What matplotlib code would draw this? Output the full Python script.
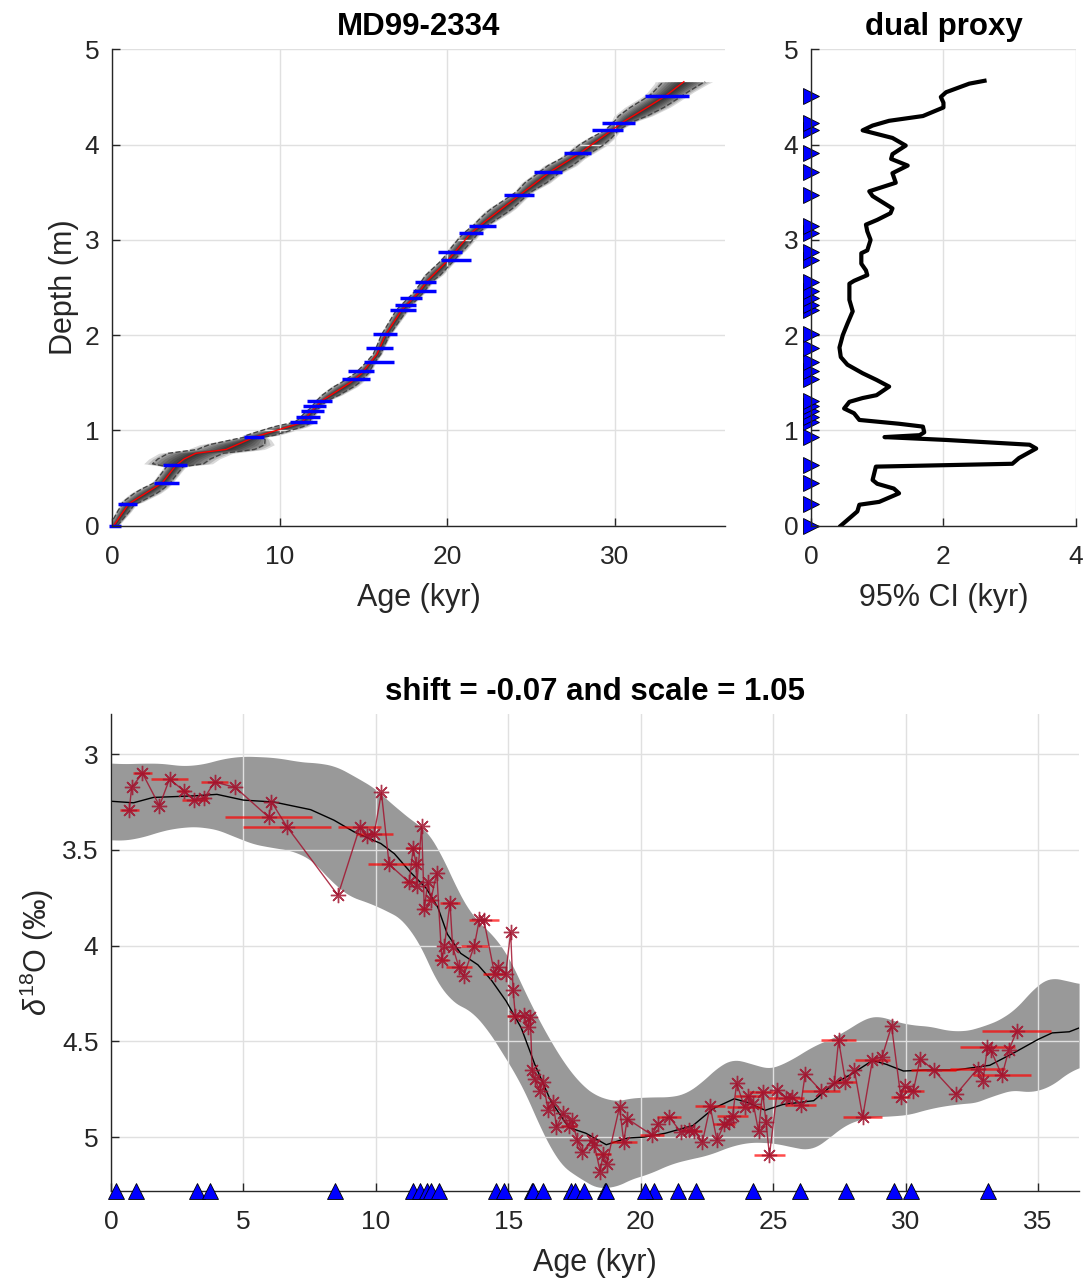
import numpy as np
import matplotlib
matplotlib.use("Agg")
import matplotlib.pyplot as plt

# === Style ===
plt.rcParams['font.family'] = ['Liberation Sans', 'DejaVu Sans']
plt.rcParams['mathtext.fontset'] = 'custom'
plt.rcParams['mathtext.rm'] = 'Liberation Sans'
plt.rcParams['mathtext.it'] = 'Liberation Sans:italic'
AX_COL = '#262626'
TICK_FS = 19
LABEL_FS = 22
TITLE_FS = 22.5

# === Tie points (depth in m, age in kyr, half error in kyr) ===
tie_depth = [0.00, 0.23, 0.45, 0.64, 0.93, 1.09, 1.14, 1.20, 1.26, 1.31,
             1.54, 1.62, 1.72, 1.86, 2.01, 2.26, 2.32, 2.39, 2.46, 2.56,
             2.79, 2.87, 3.07, 3.15, 3.47, 3.71, 3.91, 4.15, 4.23, 4.51]
tie_age = [0.2, 0.95, 3.25, 3.75, 8.45, 11.4, 11.68, 11.95, 12.08, 12.4,
           14.55, 14.85, 15.9, 15.95, 16.3, 17.35, 17.5, 17.85, 18.65, 18.7,
           20.5, 20.15, 21.4, 22.1, 24.25, 26.0, 27.75, 29.55, 30.2, 33.1]
tie_err = [0.35, 0.57, 0.75, 0.73, 0.6, 0.8, 0.72, 0.7, 0.7, 0.75,
           0.85, 0.8, 0.9, 0.8, 0.72, 0.8, 0.65, 0.66, 0.7, 0.63,
           0.9, 0.7, 0.7, 0.8, 0.9, 0.85, 0.8, 0.95, 1.0, 1.3]

# === Age-depth model median ===
med_depth = [0.0, 0.23, 0.45, 0.63, 0.70, 0.76, 0.80, 0.93, 1.0, 1.08, 1.2, 1.31,
             1.5, 1.6, 1.8, 2.0, 2.27, 2.45, 2.57, 2.78, 3.07, 3.2, 3.47,
             3.71, 3.91, 4.15, 4.23, 4.4, 4.51, 4.66]
med_age = [0.1, 1.0, 3.0, 3.8, 4.3, 5.0, 6.8, 8.5, 9.8, 11.3, 11.9, 12.5,
           14.2, 14.9, 15.8, 16.3, 17.3, 18.3, 18.8, 20.0, 21.4, 22.3, 24.3,
           26.1, 27.9, 29.8, 30.4, 32.0, 33.0, 34.1]

# === 95% CI width vs depth ===
ci_depth = [0.0, 0.09, 0.15, 0.22, 0.25, 0.34, 0.39, 0.44, 0.48, 0.62, 0.65, 0.71,
            0.81, 0.85, 0.9, 0.93, 0.95, 0.98, 1.04, 1.07, 1.11, 1.18, 1.23, 1.30,
            1.34, 1.37, 1.46, 1.53, 1.6, 1.69, 1.77, 1.87, 2.0, 2.12, 2.25, 2.37,
            2.54, 2.57, 2.63, 2.68, 2.75, 2.86, 2.89, 3.0, 3.09, 3.16, 3.21, 3.28,
            3.33, 3.46, 3.51, 3.6, 3.7, 3.78, 3.85, 3.9, 3.99, 4.07, 4.15, 4.2,
            4.25, 4.3, 4.39, 4.44, 4.5, 4.55, 4.64, 4.67]
ci_width = [0.45, 0.6, 0.7, 0.73, 1.03, 1.33, 1.25, 1.0, 0.93, 0.98, 3.04, 3.14,
            3.4, 3.3, 2.04, 1.11, 1.64, 1.71, 1.69, 1.33, 0.73, 0.65, 0.5, 0.58,
            0.78, 0.99, 1.18, 0.99, 0.78, 0.55, 0.45, 0.43, 0.48, 0.55, 0.63, 0.58,
            0.58, 0.65, 0.85, 0.83, 0.76, 0.76, 0.85, 0.9, 0.85, 0.83, 1.0, 1.2,
            1.23, 0.93, 0.88, 1.28, 1.23, 1.46, 1.21, 1.23, 1.43, 1.23, 0.78, 0.93,
            1.18, 1.69, 2.0, 2.0, 1.96, 2.04, 2.39, 2.62]

# === Reference stack (target) ===
ref_age = [0.0, 0.85, 1.6, 3.12, 4.0, 5.0, 6.15, 7.54, 8.42, 9.18, 10.19, 10.7,
           11.33, 11.9, 12.34, 12.7, 13.2, 13.85, 14.36, 14.92, 15.49, 16.0,
           16.6, 17.28, 17.93, 18.7, 19.49, 20.14, 20.93, 21.97, 22.75, 23.53,
           24.05, 24.7, 25.36, 26.53, 27.31, 27.97, 28.75, 29.27, 29.92, 30.7,
           31.88, 33.18, 34.09, 35.0, 35.53, 36.18, 36.55]
ref_mid = [3.246, 3.254, 3.226, 3.218, 3.21, 3.24, 3.25, 3.29, 3.345, 3.406,
           3.467, 3.52, 3.62, 3.70, 3.80, 3.94, 4.04, 4.10, 4.18, 4.29, 4.43,
           4.62, 4.81, 4.95, 4.98, 5.04, 5.005, 5.0, 4.98, 4.94, 4.85, 4.80,
           4.82, 4.86, 4.83, 4.81, 4.72, 4.67, 4.60, 4.62, 4.655, 4.65, 4.65,
           4.625, 4.56, 4.49, 4.456, 4.45, 4.43]
up_age = [0.0, 0.85, 1.48, 2.1, 3.12, 3.75, 4.63, 5.27, 6.5, 7.4, 8.17, 8.8,
          9.56, 10.3, 10.95, 11.58, 12.08, 12.46, 12.97, 13.47, 14.23, 14.73,
          15.24, 16.0, 16.62, 17.4, 18.06, 18.7, 19.23, 20.14, 21.45, 21.97,
          22.75, 23.27, 23.8, 24.45, 25.36, 26.14, 27.05, 27.7, 28.23, 28.75,
          29.27, 29.92, 30.7, 31.88, 32.92, 33.96, 34.48, 35.14, 35.66, 36.18, 36.55]
up_val = [3.045, 3.054, 3.04, 3.052, 3.066, 3.04, 3.01, 3.01, 3.02, 3.05, 3.04,
          3.084, 3.145, 3.205, 3.32, 3.354, 3.415, 3.50, 3.69, 3.83, 3.92, 3.98,
          4.11, 4.37, 4.49, 4.695, 4.75, 4.83, 4.80, 4.79, 4.79, 4.76, 4.65,
          4.59, 4.58, 4.65, 4.63, 4.55, 4.49, 4.46, 4.39, 4.355, 4.37, 4.42,
          4.41, 4.456, 4.425, 4.36, 4.29, 4.16, 4.155, 4.2, 4.2]
lo_age = [0.0, 0.85, 1.48, 2.74, 3.62, 4.38, 5.0, 5.9, 7.16, 7.92, 8.67, 9.68,
          10.44, 11.33, 11.7, 12.21, 12.59, 12.97, 13.35, 13.85, 14.36, 14.99,
          15.62, 16.12, 16.62, 17.14, 17.93, 18.7, 19.23, 20.0, 20.66, 21.45,
          22.23, 23.0, 23.8, 24.58, 25.36, 26.14, 26.66, 27.05, 27.57, 28.36,
          29.14, 29.79, 30.57, 31.88, 33.05, 33.57, 34.48, 35.14, 35.79, 36.55]
lo_val = [3.446, 3.453, 3.415, 3.376, 3.38, 3.406, 3.458, 3.484, 3.51, 3.59,
          3.73, 3.77, 3.82, 3.885, 4.007, 4.16, 4.29, 4.31, 4.31, 4.355, 4.477,
          4.60, 4.756, 4.91, 5.10, 5.17, 5.23, 5.30, 5.23, 5.21, 5.17, 5.12,
          5.11, 5.07, 5.026, 5.026, 5.035, 5.07, 5.07, 5.017, 4.93, 4.91, 4.88,
          4.90, 4.86, 4.826, 4.817, 4.75, 4.76, 4.77, 4.70, 4.62]

# === Proxy record (age, d18O, half age error) ===
proxy_age = [0.69, 0.78, 1.19, 1.83, 2.21, 2.74, 3.14, 3.52, 3.91, 4.70,
             5.96, 6.06, 6.65, 8.57, 9.39, 9.68, 9.94, 10.21, 10.50, 11.26,
             11.41, 11.52, 11.54, 11.73, 11.83, 11.96, 12.08, 12.30, 12.49, 12.59,
             12.80, 12.90, 13.13, 13.31, 13.72, 13.91, 14.08, 14.48, 14.61, 14.90,
             15.09, 15.18, 15.27, 15.59, 15.74, 15.83, 15.90, 16.00, 16.19, 16.31,
             16.50, 16.69, 16.82, 17.08, 17.28, 17.41, 17.60, 17.80, 18.16, 18.25,
             18.47, 18.58, 18.71, 19.20, 19.36, 19.49, 20.43, 20.66, 21.08, 21.51,
             21.84, 22.03, 22.33, 22.62, 22.88, 23.14, 23.34, 23.47, 23.62, 23.92,
             24.05, 24.25, 24.45, 24.60, 24.73, 24.86, 25.16, 25.49, 25.72, 26.04,
             26.21, 26.82, 27.31, 27.47, 27.73, 28.07, 28.38, 28.75, 29.11, 29.47,
             29.82, 29.96, 30.29, 30.55, 31.07, 31.90, 32.72, 32.92, 33.09, 33.22,
             33.64, 33.90, 34.20]
proxy_d18o = [3.293, 3.174, 3.10, 3.27, 3.13, 3.19, 3.24, 3.23, 3.145, 3.174,
              3.33, 3.25, 3.38, 3.737, 3.383, 3.43, 3.415, 3.20, 3.575, 3.67,
              3.49, 3.575, 3.69, 3.376, 3.81, 3.667, 3.76, 3.62, 4.073, 4.00,
              3.777, 4.007, 4.11, 4.16, 4.00, 3.862, 3.868, 4.146, 4.11, 4.15,
              3.93, 4.23, 4.37, 4.364, 4.425, 4.373, 4.65, 4.695, 4.76, 4.71,
              4.857, 4.817, 4.948, 4.875, 4.94, 4.913, 5.014, 5.078, 5.017, 5.04,
              5.18, 5.087, 5.14, 4.843, 5.026, 4.904, 4.99, 4.93, 4.895, 4.974,
              4.965, 4.969, 5.026, 4.84, 5.017, 4.934, 4.92, 4.89, 4.72, 4.843,
              4.787, 4.826, 4.97, 4.765, 4.92, 5.096, 4.752, 4.794, 4.79, 4.835,
              4.67, 4.76, 4.718, 4.495, 4.71, 4.652, 4.895, 4.596, 4.582, 4.42,
              4.79, 4.735, 4.76, 4.59, 4.652, 4.777, 4.643, 4.707, 4.53, 4.547,
              4.678, 4.544, 4.446]
proxy_err = [0.35, 0.0, 0.37, 0.0, 0.68, 0.2, 0.47, 0.15, 0.5, 0.0,
             1.64, 0.0, 1.67, 0.0, 0.82, 0.0, 0.7, 0.0, 0.79, 0.2,
             0.28, 0.2, 0.0, 0.0, 0.15, 0.0, 0.15, 0.0, 0.25, 0.0,
             0.38, 0.0, 0.5, 0.0, 0.5, 0.0, 0.57, 0.44, 0.0, 0.0,
             0.0, 0.0, 0.3, 0.0, 0.0, 0.0, 0.0, 0.0, 0.0, 0.0,
             0.0, 0.0, 0.0, 0.0, 0.3, 0.0, 0.0, 0.0, 0.0, 0.0,
             0.0, 0.3, 0.0, 0.0, 0.5, 0.0, 0.45, 0.0, 0.45, 0.0,
             0.3, 0.3, 0.0, 0.57, 0.0, 0.42, 0.0, 0.58, 0.0, 0.65,
             0.5, 0.0, 0.0, 0.52, 0.0, 0.57, 0.0, 0.68, 0.0, 0.58,
             0.0, 0.72, 0.0, 0.67, 0.4, 0.0, 0.73, 0.65, 0.0, 0.0,
             0.36, 0.0, 0.42, 0.0, 0.85, 0.0, 1.04, 0.0, 1.04, 0.0,
             1.1, 0.0, 1.3]

X_MAX = 36.55


def style_axes(ax):
    for s in ['top', 'right']:
        ax.spines[s].set_visible(False)
    for s in ['left', 'bottom']:
        ax.spines[s].set_color(AX_COL)
        ax.spines[s].set_linewidth(1.0)
    ax.tick_params(direction='in', length=6, width=1, colors=AX_COL,
                   labelsize=TICK_FS)
    ax.tick_params(axis='x', pad=14)
    ax.tick_params(axis='y', pad=9)
    ax.grid(True, color='#e0e0e0', linewidth=1.0)
    ax.set_axisbelow('line')


def smooth_edge(xs, ys, grid, win=15):
    # light moving-average of the traced band edge
    v = np.interp(grid, xs, ys)
    pad = np.pad(v, win // 2, mode='edge')
    return np.convolve(pad, np.ones(win) / win, mode='valid')


fig = plt.figure(figsize=(10.89, 12.85), dpi=100)

# === Top left: age-depth model ===
ax1 = fig.add_axes([0.1028, 0.5909, 0.5629, 0.3707])
grid_d = np.arange(0, 4.661, 0.01)
age_g = np.interp(grid_d, med_depth, med_age)
half_g = np.interp(grid_d, ci_depth, ci_width) / 2.0
for f in [1.35, 1.2, 1.05, 0.9, 0.75, 0.6, 0.45, 0.3, 0.15]:
    ax1.fill_betweenx(grid_d, age_g - f * half_g, age_g + f * half_g,
                      color='black', alpha=0.15, linewidth=0)
ax1.plot(age_g - half_g, grid_d, '--', color='#444444', lw=1.0)
ax1.plot(age_g + half_g, grid_d, '--', color='#444444', lw=1.0)
ax1.plot(med_age, med_depth, color='red', lw=1.0)
ax1.errorbar(tie_age, tie_depth, xerr=tie_err, fmt='none', ecolor='blue',
             elinewidth=2.5, capsize=0, clip_on=False)
ax1.set_xlim(0, X_MAX)
ax1.set_ylim(0, 5)
ax1.set_xticks([0, 10, 20, 30])
ax1.set_yticks([0, 1, 2, 3, 4, 5])
style_axes(ax1)
ax1.set_xlabel('Age (kyr)', fontsize=LABEL_FS, color=AX_COL, labelpad=10)
ax1.set_ylabel('Depth (m)', fontsize=LABEL_FS, color=AX_COL, labelpad=4)
ax1.set_title('MD99-2334', fontsize=TITLE_FS, fontweight='bold', pad=10)

# === Top right: CI width ===
ax2 = fig.add_axes([0.7447, 0.5909, 0.2433, 0.3707])
ax2.plot(ci_width, ci_depth, color='black', lw=3)
ax2.plot(np.zeros(len(tie_depth)), tie_depth, '>', color='blue',
         markeredgecolor='black', markeredgewidth=0.6, markersize=12, clip_on=False)
ax2.set_xlim(0, 4)
ax2.set_ylim(0, 5)
ax2.set_xticks([0, 2, 4])
ax2.set_yticks([0, 1, 2, 3, 4, 5])
style_axes(ax2)
ax2.set_xlabel('95% CI (kyr)', fontsize=LABEL_FS, color=AX_COL, labelpad=10)
ax2.set_title('dual proxy', fontsize=TITLE_FS, fontweight='bold', pad=10)

# === Bottom: proxy vs reference ===
ax3 = fig.add_axes([0.1019, 0.0734, 0.889, 0.371])
band_age = np.linspace(0, X_MAX, 400)
ax3.fill_between(band_age, smooth_edge(up_age, up_val, band_age),
                 smooth_edge(lo_age, lo_val, band_age),
                 color='#999999', linewidth=0)
ax3.plot(ref_age, ref_mid, color='black', lw=1.0)
pa = np.array(proxy_age)
pv = np.array(proxy_d18o)
pe = np.array(proxy_err)
has_err = pe > 0
ax3.errorbar(pa[has_err], pv[has_err], xerr=pe[has_err], fmt='none',
             ecolor='red', elinewidth=1.8, alpha=0.7, capsize=0)
ax3.plot(pa, pv, '-', color='#A2142F', lw=1.0, alpha=0.85,
         marker=(8, 2, 0), markersize=11, markeredgewidth=1.0)
ax3.set_xlim(0, X_MAX)
ax3.set_ylim(5.28, 2.79)
ax3.plot(tie_age, np.full(len(tie_age), 5.28), '^', color='blue',
         markeredgecolor='black', markeredgewidth=0.6, markersize=12,
         clip_on=False, zorder=5)
ax3.set_xticks([0, 5, 10, 15, 20, 25, 30, 35])
ax3.set_yticks([3, 3.5, 4, 4.5, 5])
ax3.set_yticklabels(['3', '3.5', '4', '4.5', '5'])
style_axes(ax3)
ax3.set_xlabel('Age (kyr)', fontsize=LABEL_FS, color=AX_COL, labelpad=10)
ax3.set_ylabel(r'$\delta^{18}$O (‰)', fontsize=LABEL_FS, color=AX_COL)
ax3.set_title('shift = -0.07 and scale = 1.05', fontsize=TITLE_FS,
              fontweight='bold', pad=10)

fig.savefig('out.png', dpi=100)
